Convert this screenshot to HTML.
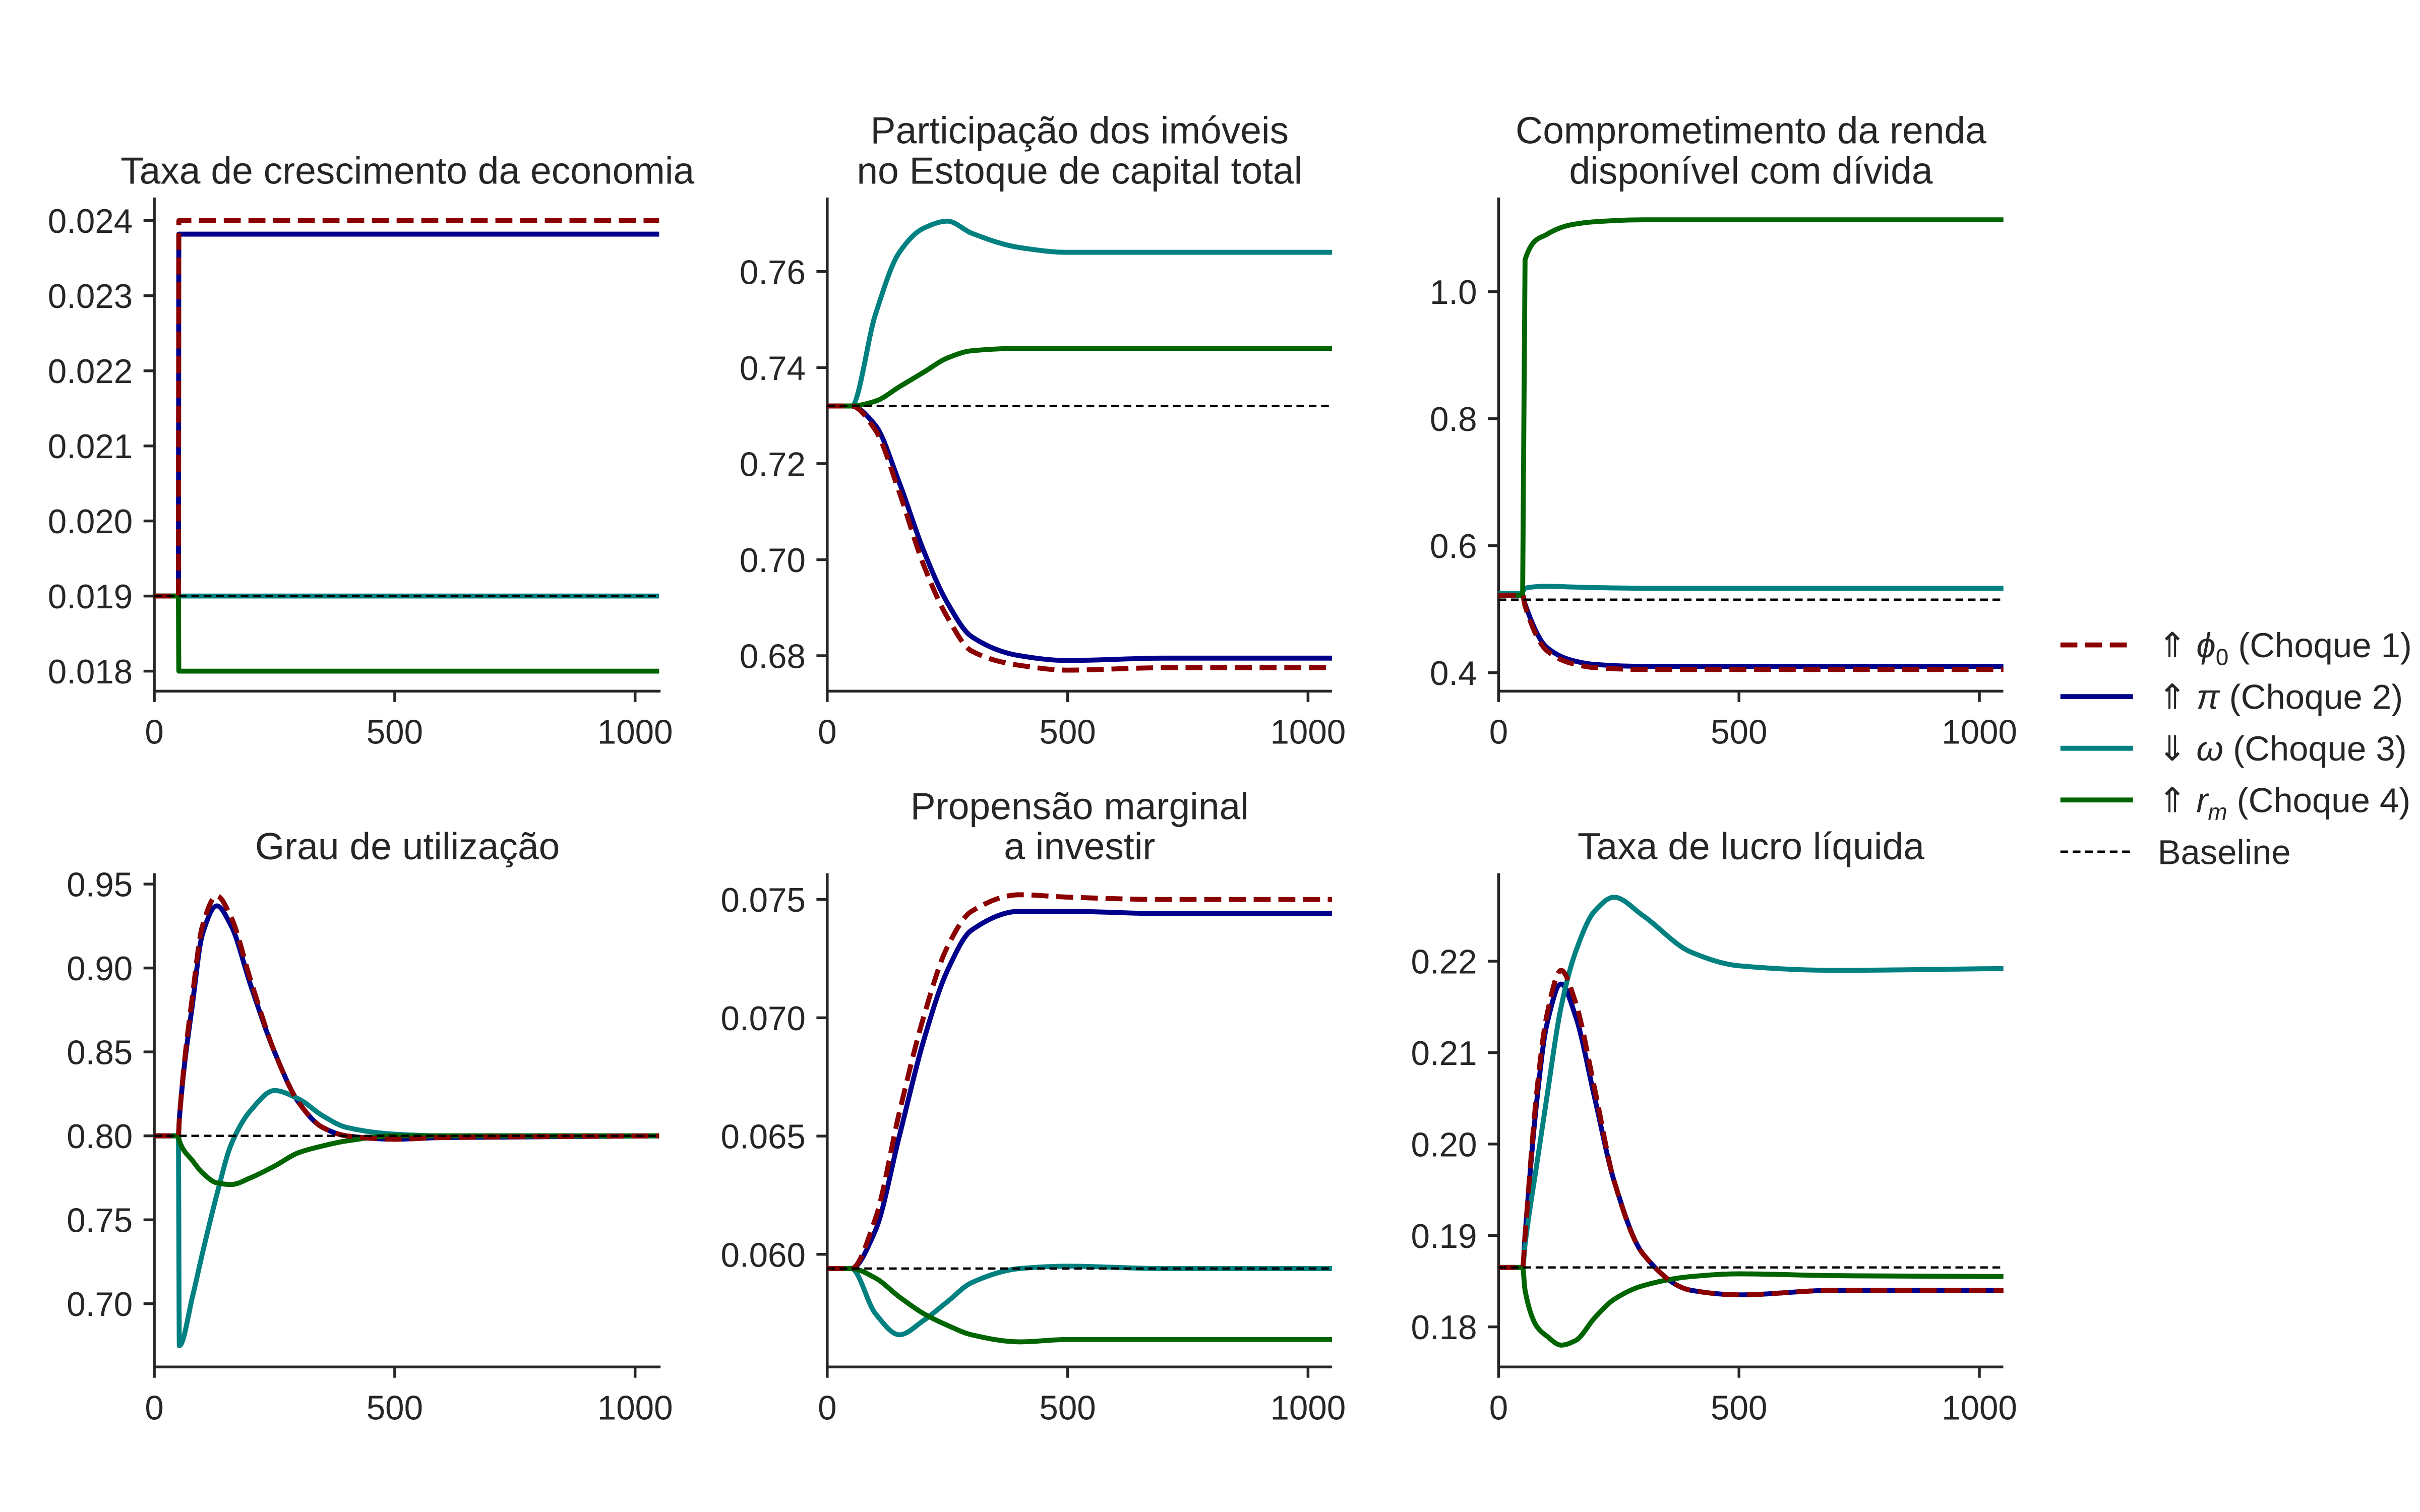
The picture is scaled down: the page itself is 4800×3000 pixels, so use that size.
<!DOCTYPE html>
<html><head><meta charset="utf-8"><style>
html,body{margin:0;padding:0;background:#fff;}
svg{display:block;font-family:"Liberation Sans","DejaVu Sans",sans-serif;}
</style></head><body>
<svg id="fig" width="4800" height="3000" viewBox="0 0 1568 980" xmlns="http://www.w3.org/2000/svg"></svg>
<script>
// ---- data ----
const colors = ["#8b0000","#00008b","#008080","#006400"];
const seriesNames = ["shock1","shock2","shock3","shock4"];
// Panel 1: growth rate
const t1 = [0,49,50,51,1050];
const p1s1 = [0.019,0.019,0.019,0.0240,0.0240];
const p1s2 = [0.019,0.019,0.019,0.02382,0.02382];
const p1s3 = [0.019,0.019,0.019,0.019,0.019];
const p1s4 = [0.019,0.019,0.019,0.0180,0.0180];
const p1base = 0.019;
// Panel 2: housing share
const t2 = [0,50,100,150,200,250,300,400,500,700,1050];
const p2s1 = [0.732,0.732,0.727,0.714,0.699,0.688,0.681,0.678,0.677,0.6775,0.6775];
const p2s2 = [0.732,0.732,0.728,0.716,0.702,0.691,0.684,0.680,0.679,0.6795,0.6795];
const p2s3 = [0.732,0.732,0.751,0.764,0.769,0.7705,0.768,0.765,0.764,0.764,0.764];
const p2s4 = [0.732,0.732,0.733,0.736,0.739,0.742,0.7435,0.744,0.744,0.744,0.744];
const p2base = 0.732;
// Panel 3: debt commitment
const t3 = [0,49,50,55,100,150,200,300,500,1050];
const p3s1 = [0.522,0.522,0.522,0.505,0.435,0.415,0.408,0.405,0.405,0.405];
const p3s2 = [0.522,0.522,0.522,0.508,0.440,0.420,0.413,0.410,0.410,0.410];
const p3s3 = [0.525,0.525,0.527,0.533,0.536,0.535,0.534,0.533,0.533,0.533];
const p3s4 = [0.522,0.522,0.525,1.05,1.09,1.105,1.11,1.113,1.113,1.113];
const p3base = 0.515;
// Panel 4: utilization
const t4 = [0,50,52,80,100,130,160,200,250,300,350,400,500,600,1050];
const p4s1 = [0.80,0.80,0.81,0.885,0.925,0.943,0.93,0.893,0.85,0.82,0.805,0.80,0.798,0.799,0.80];
const p4s2 = [0.80,0.80,0.81,0.88,0.92,0.937,0.925,0.89,0.85,0.82,0.805,0.80,0.798,0.799,0.80];
const p4s3 = [0.80,0.80,0.675,0.705,0.73,0.765,0.795,0.815,0.827,0.822,0.812,0.805,0.801,0.80,0.80];
const p4s4 = [0.80,0.80,0.797,0.785,0.778,0.772,0.771,0.775,0.782,0.79,0.794,0.797,0.80,0.80,0.80];
const p4base = 0.80;
// Panel 5: marginal propensity to invest
const t5 = [0,50,100,150,200,250,300,400,500,700,1050];
const p5s1 = [0.0594,0.0594,0.0615,0.066,0.070,0.0730,0.0745,0.0752,0.0751,0.0750,0.0750];
const p5s2 = [0.0594,0.0594,0.0610,0.065,0.069,0.0720,0.0737,0.0745,0.0745,0.0744,0.0744];
const p5s3 = [0.0594,0.0594,0.0575,0.0566,0.0572,0.0580,0.0588,0.0594,0.0595,0.0594,0.0594];
const p5s4 = [0.0594,0.0594,0.0590,0.0582,0.0575,0.0570,0.0566,0.0563,0.0564,0.0564,0.0564];
const p5base = 0.0594;
// Panel 6: net profit rate
const t6 = [0,50,55,80,100,130,160,200,240,300,400,500,700,1050];
const p6s1 = [0.1865,0.1865,0.19,0.206,0.214,0.219,0.2155,0.206,0.196,0.188,0.184,0.1835,0.184,0.184];
const p6s2 = [0.1865,0.1865,0.19,0.205,0.213,0.2175,0.214,0.205,0.196,0.188,0.184,0.1835,0.184,0.184];
const p6s3 = [0.1865,0.1865,0.189,0.198,0.205,0.215,0.221,0.2255,0.227,0.225,0.221,0.2195,0.219,0.2192];
const p6s4 = [0.1865,0.1865,0.184,0.180,0.179,0.178,0.1785,0.181,0.183,0.1845,0.1855,0.1858,0.1856,0.1855];
const p6base = 0.1865;

const xTicks = [0,500,1000];
const yTicks1 = [0.018,0.019,0.020,0.021,0.022,0.023,0.024];
const yTicks2 = [0.68,0.70,0.72,0.74,0.76];
const yTicks3 = [0.4,0.6,0.8,1.0];
const yTicks4 = [0.70,0.75,0.80,0.85,0.90,0.95];
const yTicks5 = [0.060,0.065,0.070,0.075];
const yTicks6 = [0.18,0.19,0.20,0.21,0.22];
const legendLabels = ["⇑ <tspan font-style='italic'>ϕ</tspan><tspan font-size='15' dy='5'>0</tspan><tspan dy='-5'> (Choque 1)</tspan>","⇑ <tspan font-style='italic'>π</tspan> (Choque 2)","⇓ <tspan font-style='italic'>ω</tspan> (Choque 3)","⇑ <tspan font-style='italic'>r</tspan><tspan font-size='15' dy='5' font-style='italic'>m</tspan><tspan dy='-5'> (Choque 4)</tspan>","Baseline"];

const panels = [
 {name:"growth-rate",title:["Taxa de crescimento da economia"],x0:100,x1:428,top:128,bot:448,yA:0.024,pA:143,yB:0.018,pB:435,t:t1,s:[p1s1,p1s2,p1s3,p1s4],base:p1base,yt:yTicks1,dec:3},
 {name:"housing-share",title:["Participação dos imóveis","no Estoque de capital total"],x0:536,x1:863,top:128,bot:448,yA:0.76,pA:176,yB:0.68,pB:425,t:t2,s:[p2s1,p2s2,p2s3,p2s4],base:p2base,yt:yTicks2,dec:2},
 {name:"debt-commitment",title:["Comprometimento da renda","disponível com dívida"],x0:971,x1:1298,top:128,bot:448,yA:1.0,pA:189,yB:0.4,pB:436,t:t3,s:[p3s1,p3s2,p3s3,p3s4],base:p3base,yt:yTicks3,dec:1},
 {name:"utilization",title:["Grau de utilização"],x0:100,x1:428,top:566,bot:886,yA:0.95,pA:573,yB:0.70,pB:845,t:t4,s:[p4s1,p4s2,p4s3,p4s4],base:p4base,yt:yTicks4,dec:2},
 {name:"propensity-invest",title:["Propensão marginal","a investir"],x0:536,x1:863,top:566,bot:886,yA:0.075,pA:583,yB:0.060,pB:813,t:t5,s:[p5s1,p5s2,p5s3,p5s4],base:p5base,yt:yTicks5,dec:3},
 {name:"profit-rate",title:["Taxa de lucro líquida"],x0:971,x1:1298,top:566,bot:886,yA:0.22,pA:623,yB:0.18,pB:860,t:t6,s:[p6s1,p6s2,p6s3,p6s4],base:p6base,yt:yTicks6,dec:2}
];
const NS="http://www.w3.org/2000/svg";
const svg=document.getElementById('fig');
function mk(tag,attrs,parent){const e=document.createElementNS(NS,tag);for(const k in attrs)e.setAttribute(k,attrs[k]);(parent||svg).appendChild(e);return e;}
// monotone cubic (Fritsch-Carlson)
function smoothPath(pts){
 const n=pts.length;const dx=[],sl=[];
 for(let i=0;i<n-1;i++){dx[i]=pts[i+1][0]-pts[i][0];sl[i]=(pts[i+1][1]-pts[i][1])/dx[i];}
 const m=new Array(n);
 m[0]=sl[0];m[n-1]=sl[n-2];
 for(let i=1;i<n-1;i++){
  if(sl[i-1]*sl[i]<=0)m[i]=0;
  else{const w1=2*dx[i]+dx[i-1],w2=dx[i]+2*dx[i-1];m[i]=(w1+w2)/(w1/sl[i-1]+w2/sl[i]);}
 }
 let d="M"+pts[0][0].toFixed(2)+","+pts[0][1].toFixed(2);
 for(let i=0;i<n-1;i++){
  const h=dx[i]/3;
  d+=" C"+(pts[i][0]+h).toFixed(2)+","+(pts[i][1]+m[i]*h).toFixed(2)+" "+(pts[i+1][0]-h).toFixed(2)+","+(pts[i+1][1]-m[i+1]*h).toFixed(2)+" "+pts[i+1][0].toFixed(2)+","+pts[i+1][1].toFixed(2);
 }
 return d;
}
panels.forEach(P=>{
 const g=mk('g',{});
 
 
 const xs=v=>P.x0+v*0.3115;
 const ys=v=>P.pB+(v-P.yB)*(P.pA-P.pB)/(P.yA-P.yB);
 P.title.forEach((ln,i)=>{
  const ty=P.title.length===1?P.top-9:P.top-35+i*26;
  const tt=mk('text',{x:(P.x0+P.x1)/2,y:ty,'text-anchor':'middle','font-size':24.5,fill:'#262626'},g);
  tt.textContent=ln;
  
  
 });
 const ax=mk('path',{d:`M${P.x0},${P.top} V${P.bot} H${P.x1}`,stroke:'#262626','stroke-width':1.8,fill:'none'},g);
 
 
 xTicks.forEach(v=>{
  mk('line',{x1:xs(v),x2:xs(v),y1:P.bot,y2:P.bot+7,stroke:'#262626','stroke-width':1.8},g);
  const tx=mk('text',{x:xs(v),y:P.bot+34,'text-anchor':'middle','font-size':22,fill:'#262626'},g);
  tx.textContent=v;
  
  
 });
 P.yt.forEach(v=>{
  mk('line',{x1:P.x0-7,x2:P.x0,y1:ys(v),y2:ys(v),stroke:'#262626','stroke-width':1.8},g);
  const tx=mk('text',{x:P.x0-14,y:ys(v)+8,'text-anchor':'end','font-size':22,fill:'#262626'},g);
  tx.textContent=v.toFixed(P.dec);
  
  
 });
 const order=[1,2,3,0];
 order.forEach(k=>{
  const arr=P.s[k];
  const pts=arr.map((v,i)=>[xs(P.t[i]),ys(v)]);
  const attrs={d:smoothPath(pts),stroke:colors[k],'stroke-width':3.2,fill:'none','stroke-linejoin':'round'};
  if(k===0){attrs['stroke-dasharray']='11,5';}
  const pth=mk('path',attrs,g);
  
  
 });
 const bl=mk('line',{x1:P.x0,x2:P.x1,y1:ys(P.base),y2:ys(P.base),stroke:'#000','stroke-width':1.5,'stroke-dasharray':'5,3'},g);
 
 
});
const lg=mk('g',{});


legendLabels.forEach((lab,i)=>{
 const y=418+i*33.5;
 const a={x1:1335,x2:1382,y1:y,y2:y,stroke:i<4?colors[i]:'#000','stroke-width':i<4?3.2:1.5};
 if(i===0)a['stroke-dasharray']='11,5';
 if(i===4)a['stroke-dasharray']='5,3';
 const ln=mk('line',a,lg);
 
 
 const tx=mk('text',{x:1398,y:y+8,'font-size':22.5,fill:'#262626'},lg);
 tx.innerHTML=lab;
 
 
});
</script>
</body></html>
